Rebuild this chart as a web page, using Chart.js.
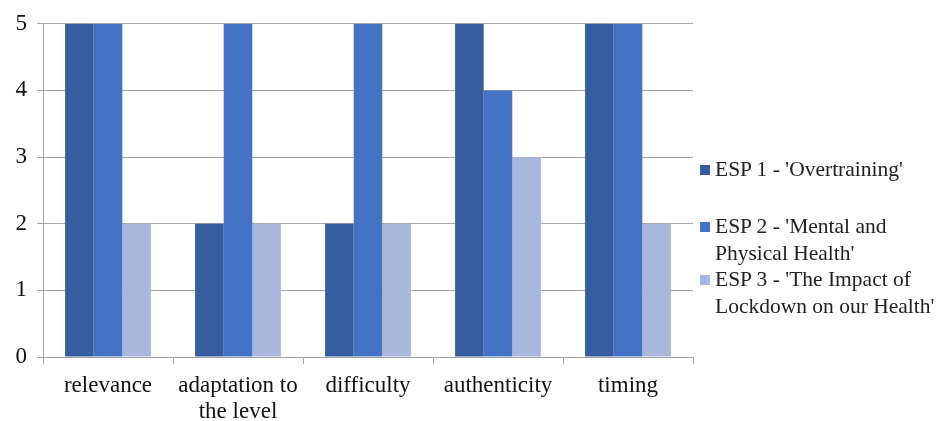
<!DOCTYPE html>
<html>
<head>
<meta charset="utf-8">
<script src="https://cdn.jsdelivr.net/npm/chart.js@4/dist/chart.umd.min.js"></script>
<style>
  html, body { margin: 0; padding: 0; background: #fff; }
  #wrap { position: relative; width: 938px; height: 421px; }
  #legend {
    position: absolute; left: 700px; top: 156px;
    font-family: "Liberation Serif", "Times New Roman", serif;
    font-size: 21.5px; color: #222; line-height: 27px;
  }
  .item { position: relative; padding-left: 15px; }
  .item span.box { position: absolute; left: 0; top: 9px; width: 10px; height: 10px; }
</style>
</head>
<body>
<div id="wrap">
  <canvas id="chart" width="938" height="421"></canvas>
  <div id="legend"></div>
</div>
<script>
const categories = ["relevance", ["adaptation to", "the level"], "difficulty", "authenticity", "timing"];
const seriesNames = ["ESP 1 - 'Overtraining'", "ESP 2 - 'Mental and Physical Health'", "ESP 3 - 'The Impact of Lockdown on our Health'"];
const esp1 = [5, 2, 2, 5, 5];
const esp2 = [5, 5, 5, 4, 5];
const esp3 = [2, 2, 2, 3, 2];
const yTicks = [0, 1, 2, 3, 4, 5];

const colors = ["#355DA0", "#4472C4", "#A8B7DC"];
const legendLines = [["ESP 1 - 'Overtraining'"], ["ESP 2 - 'Mental and", "Physical Health'"], ["ESP 3 - 'The Impact of", "Lockdown on our Health'"]];
const legendTops = [0, 57, 110];

const serif = "'Liberation Serif', 'Times New Roman', serif";
const gridColor = "#A6A6A6";

const legend = document.getElementById("legend");
legendLines.forEach((lines, i) => {
  const d = document.createElement("div");
  d.className = "item";
  d.style.position = "absolute";
  d.style.top = legendTops[i] + "px";
  d.style.whiteSpace = "nowrap";
  d.innerHTML = '<span class="box" style="background:' + colors[i] + '"></span>' + lines.join("<br>");
  legend.appendChild(d);
});

new Chart(document.getElementById("chart").getContext("2d"), {
  type: "bar",
  data: {
    labels: categories,
    datasets: [
      { label: seriesNames[0], data: esp1, backgroundColor: colors[0] },
      { label: seriesNames[1], data: esp2, backgroundColor: colors[1] },
      { label: seriesNames[2], data: esp3, backgroundColor: colors[2] },
    ],
  },
  options: {
    responsive: false,
    animation: false,
    layout: { padding: { top: 23, right: 245, left: 0, bottom: 0 } },
    plugins: {
      legend: { display: false },
      tooltip: { enabled: false },
    },
    datasets: { bar: { categoryPercentage: 0.66, barPercentage: 1.0, borderWidth: 0 } },
    scales: {
      x: {
        grid: { display: true, drawOnChartArea: false, drawTicks: true, tickLength: 7, color: gridColor, offset: true },
        border: { display: true, color: gridColor, width: 1 },
        ticks: { color: "#111", font: { family: serif, size: 23, lineHeight: 1.12 }, padding: 9, maxRotation: 0, autoSkip: false },
        afterFit: (axis) => { axis.height = 64; },
      },
      y: {
        min: 0,
        max: 5,
        afterBuildTicks: (axis) => { axis.ticks = yTicks.map((v) => ({ value: v })); },
        grid: { color: gridColor, drawTicks: true, tickLength: 6 },
        border: { display: true, color: gridColor, width: 1 },
        ticks: { color: "#111", font: { family: serif, size: 23 }, padding: 10 },
        afterFit: (axis) => { axis.width = 43; },
      },
    },
  },
});
</script>
</body>
</html>
